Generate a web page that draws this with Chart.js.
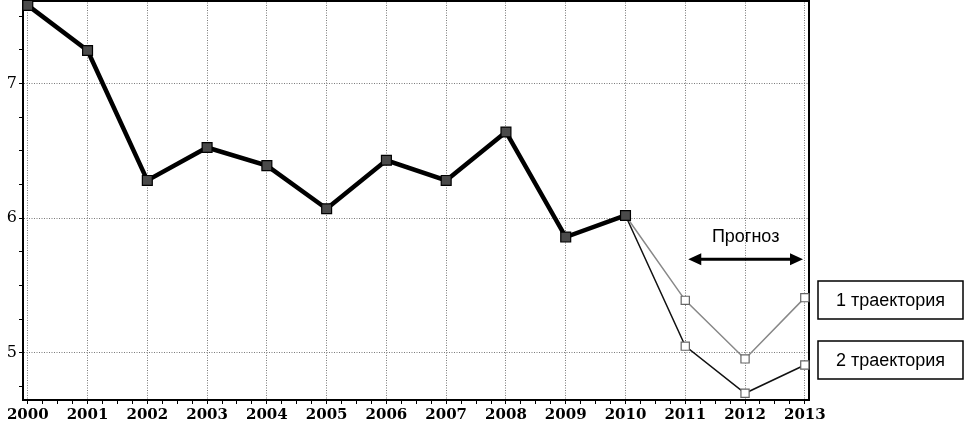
<!DOCTYPE html>
<html>
<head>
<meta charset="utf-8">
<script src="https://cdn.jsdelivr.net/npm/chart.js@4.4.0/dist/chart.umd.min.js"></script>
<style>
  html, body { margin: 0; padding: 0; background: #fff; }
  #wrap { width: 967px; height: 425px; }
</style>
</head>
<body>
<div id="wrap"><canvas id="chartCanvas" width="967" height="425"></canvas></div>
<script>
"use strict";

// data
var years = [2000, 2001, 2002, 2003, 2004, 2005, 2006, 2007, 2008, 2009, 2010, 2011, 2012, 2013];
var actual = [7.58, 7.245, 6.28, 6.525, 6.39, 6.07, 6.43, 6.28, 6.64, 5.86, 6.02, null, null, null];
var traj1 = [null, null, null, null, null, null, null, null, null, null, 6.02, 5.39, 4.955, 5.41];
var traj2 = [null, null, null, null, null, null, null, null, null, null, 6.02, 5.05, 4.70, 4.91];
var yTicks = [4.75, 5, 5.25, 5.5, 5.75, 6, 6.25, 6.5, 6.75, 7, 7.25, 7.5];
var legendLabels = ['1 траектория', '2 траектория'];
var forecastLabel = 'Прогноз';

function toPoints(arr) {
    return years.map(function (y, i) { return {x: y, y: arr[i]}; });
}

var xTicks = [];
for (var q = years[0]; q <= years[years.length - 1] + 0.001; q += 0.25) xTicks.push(q);

function isWhole(v) { return Math.abs(v - Math.round(v)) < 0.001; }

// frame, forecast arrow and side boxes
var decorPlugin = {
    id: 'decor',
    beforeDatasetsDraw: function (chart) {
        var a = chart.chartArea, ctx = chart.ctx;
        ctx.save();
        ctx.strokeStyle = '#000';
        ctx.lineWidth = 2;
        ctx.beginPath();
        ctx.moveTo(a.left, a.top + 1);
        ctx.lineTo(a.right, a.top + 1);
        ctx.lineTo(a.right, a.bottom);
        ctx.stroke();
        ctx.restore();
    },
    afterDraw: function (chart) {
        var ctx = chart.ctx;
        var xs = chart.scales.x, ys = chart.scales.y;
        ctx.save();
        // forecast label + arrow
        var x1 = xs.getPixelForValue(2011.05), x2 = xs.getPixelForValue(2012.97);
        var ay = ys.getPixelForValue(5.695);
        ctx.fillStyle = '#000';
        ctx.font = '18px "Liberation Sans", Arial, sans-serif';
        ctx.textAlign = 'center';
        ctx.textBaseline = 'middle';
        ctx.fillText(forecastLabel, (x1 + x2) / 2, ys.getPixelForValue(5.86));
        ctx.strokeStyle = '#000';
        ctx.lineWidth = 3;
        ctx.beginPath();
        ctx.moveTo(x1 + 8, ay);
        ctx.lineTo(x2 - 8, ay);
        ctx.stroke();
        ctx.beginPath();
        ctx.moveTo(x1, ay); ctx.lineTo(x1 + 13, ay - 6); ctx.lineTo(x1 + 13, ay + 6); ctx.closePath();
        ctx.moveTo(x2, ay); ctx.lineTo(x2 - 13, ay - 6); ctx.lineTo(x2 - 13, ay + 6); ctx.closePath();
        ctx.fill();

        // legend boxes
        var bx = chart.chartArea.right + 9, bw = 145, bh = 38;
        var tops = [281, 341];
        ctx.lineWidth = 1.5;
        for (var i = 0; i < legendLabels.length; i++) {
            ctx.strokeRect(bx, tops[i], bw, bh);
            ctx.fillText(legendLabels[i], bx + bw / 2, tops[i] + bh / 2 + 1);
        }
        ctx.restore();
    }
};

var ctx = document.getElementById('chartCanvas').getContext('2d');
new Chart(ctx, {
    type: 'line',
    data: {
        datasets: [
            {
                label: '2 траектория',
                data: toPoints(traj2),
                borderColor: '#111',
                borderWidth: 1.5,
                pointStyle: 'rect',
                pointRadius: traj2.map(function (v, i) { return i <= 10 ? 0 : 5.8; }),
                pointBackgroundColor: '#fff',
                pointBorderColor: '#666',
                pointBorderWidth: 1.2,
                clip: false,
                order: 3
            },
            {
                label: '1 траектория',
                data: toPoints(traj1),
                borderColor: '#888',
                borderWidth: 1.5,
                pointStyle: 'rect',
                pointRadius: traj1.map(function (v, i) { return i <= 10 ? 0 : 5.8; }),
                pointBackgroundColor: '#fff',
                pointBorderColor: '#666',
                pointBorderWidth: 1.2,
                clip: false,
                order: 2
            },
            {
                label: 'факт',
                data: toPoints(actual),
                borderColor: '#000',
                borderWidth: 4.5,
                pointStyle: 'rect',
                pointRadius: 7,
                pointBackgroundColor: '#4a4a4a',
                pointBorderColor: '#000',
                pointBorderWidth: 1.2,
                clip: false,
                order: 1
            }
        ]
    },
    options: {
        responsive: false,
        animation: false,
        events: [],
        layout: { autoPadding: false, padding: { left: 0, top: 0, right: 158, bottom: 0 } },
        plugins: { legend: { display: false }, tooltip: { enabled: false } },
        scales: {
            x: {
                type: 'linear',
                min: 1999.92,
                max: 2013.07,
                afterBuildTicks: function (scale) {
                    scale.ticks = xTicks.map(function (v) { return {value: v}; });
                },
                afterFit: function (scale) {
                    scale.height = 25;
                    scale.paddingLeft = 0;
                    scale.paddingRight = 0;
                },
                ticks: {
                    autoSkip: false,
                    maxRotation: 0,
                    padding: 2,
                    color: '#000',
                    font: { family: '"DejaVu Serif", serif', size: 15, weight: 'bold' },
                    callback: function (v) { return isWhole(v) ? String(Math.round(v)) : ''; }
                },
                grid: {
                    color: function (c) { return c.tick && isWhole(c.tick.value) ? '#7a7a7a' : 'rgba(0,0,0,0)'; },
                    lineWidth: 1,
                    drawTicks: true,
                    tickLength: 4,
                    tickColor: '#000',
                    tickBorderDash: []
                },
                border: { display: true, color: '#000', width: 2, dash: [1, 1.5] }
            },
            y: {
                min: 4.65,
                max: 7.62,
                afterBuildTicks: function (scale) {
                    scale.ticks = yTicks.map(function (v) { return {value: v}; });
                },
                afterFit: function (scale) {
                    scale.width = 23;
                    scale.paddingTop = 0;
                    scale.paddingBottom = 0;
                },
                ticks: {
                    padding: 2,
                    color: '#000',
                    font: { family: '"DejaVu Serif", serif', size: 16 },
                    callback: function (v) { return isWhole(v) ? String(Math.round(v)) : ''; }
                },
                grid: {
                    color: function (c) { return c.tick && isWhole(c.tick.value) ? '#7a7a7a' : 'rgba(0,0,0,0)'; },
                    lineWidth: 1,
                    drawTicks: true,
                    tickLength: 4,
                    tickColor: '#000',
                    tickBorderDash: []
                },
                border: { display: true, color: '#000', width: 2, dash: [1, 1.5] }
            }
        }
    },
    plugins: [decorPlugin]
});
</script>
</body>
</html>
